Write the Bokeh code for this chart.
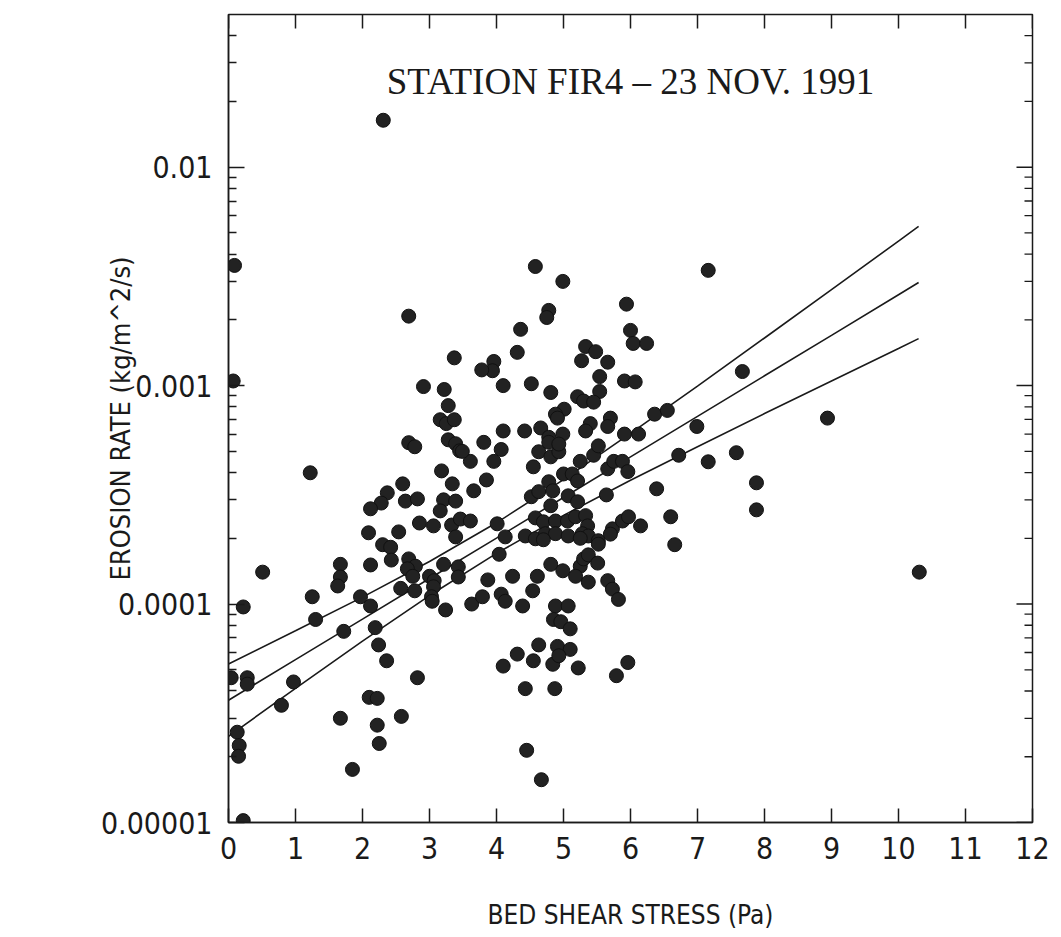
import math
from bokeh.plotting import figure
from bokeh.models import Range1d, FixedTicker, Label
from bokeh.embed import file_html
from bokeh.resources import INLINE

# ---------------- data ----------------
shear = [
    0.09, 0.07, 2.69, 3.37, 2.91, 3.22, 3.28, 3.16, 3.25, 3.37, 3.28, 3.39, 3.45, 2.69, 2.78,
    1.22, 3.18, 2.60, 3.34, 2.37, 2.28, 2.12, 2.64, 2.82, 3.21, 3.39, 3.16, 2.09, 2.54, 2.85,
    3.06, 3.33, 3.39, 2.30, 2.42,
    2.43, 2.69, 2.79, 2.67, 2.75, 3.21, 3.43, 3.43, 3.00, 3.07, 3.06, 3.03, 3.04, 2.78, 2.57,
    3.24, 0.51, 1.67, 1.67, 1.63, 2.12, 1.25, 1.97, 2.12, 0.22, 1.30, 1.72, 2.19, 2.24, 2.36,
    0.04, 0.28, 0.28, 0.97, 2.82, 2.10, 2.22, 0.79, 1.67, 2.58, 2.22, 2.25, 0.13, 0.16, 0.15,
    1.85, 0.22,
    4.58, 4.99, 5.94, 4.78, 4.75, 4.36, 6.00, 6.04, 6.24, 4.31, 5.33, 5.48, 5.27, 5.66, 3.96,
    3.94, 3.78, 4.10, 4.52, 5.54, 5.91, 6.07, 4.81, 5.54, 5.21, 5.30, 5.45, 5.01, 4.88, 4.91,
    5.70, 5.66, 5.40, 5.33, 6.36, 6.55, 4.10, 4.42, 4.66, 4.78, 4.99, 5.91, 6.12, 3.81, 4.07,
    3.96, 3.61, 3.49, 4.63, 4.81, 4.93, 4.78, 4.93, 4.55, 5.25, 5.45, 5.52, 5.66, 5.75, 5.88,
    5.96, 6.72, 3.85, 3.66, 5.00, 5.13, 5.21, 4.78, 4.52, 4.63, 4.84, 5.07, 5.21, 5.64, 6.39,
    4.81, 3.46, 3.61, 4.01, 4.13, 4.58, 4.70, 4.88, 5.06, 5.18, 5.33, 5.36, 5.73, 5.88, 5.97,
    6.15, 6.60, 4.43, 4.58, 4.73, 4.88, 5.07, 5.28, 5.37, 5.52, 6.66,
    4.70, 5.25, 5.52, 5.70, 4.04, 4.81, 4.99, 5.25, 5.30, 5.37, 5.18, 5.37, 5.51, 5.66, 5.73,
    5.82, 3.87, 4.24, 4.61, 4.54, 3.63, 3.79, 4.07, 4.13, 4.39, 4.88, 5.07, 4.85, 4.96, 5.10,
    4.63, 4.91, 5.10, 4.84, 4.93, 4.31, 4.10, 4.55, 5.22, 5.96, 5.79, 4.43, 4.87, 4.45, 4.67,
    7.16, 7.67, 6.99, 8.94, 7.58, 7.16, 7.88, 7.88, 10.31, 2.31,
]
erosion = [
    3.55e-3, 1.05e-3, 2.08e-3, 1.34e-3, 9.9e-4, 9.6e-4, 8.1e-4, 6.98e-4, 6.7e-4, 6.98e-4, 5.65e-4, 5.42e-4, 5.03e-4, 5.48e-4, 5.25e-4,
    3.99e-4, 4.07e-4, 3.55e-4, 3.55e-4, 3.23e-4, 2.90e-4, 2.73e-4, 2.96e-4, 3.03e-4, 3.0e-4, 2.96e-4, 2.67e-4, 2.12e-4, 2.14e-4, 2.35e-4,
    2.28e-4, 2.30e-4, 2.03e-4, 1.87e-4, 1.82e-4,
    1.59e-4, 1.61e-4, 1.49e-4, 1.45e-4, 1.34e-4, 1.52e-4, 1.48e-4, 1.33e-4, 1.34e-4, 1.28e-4, 1.20e-4, 1.08e-4, 1.03e-4, 1.15e-4, 1.18e-4,
    9.4e-5, 1.40e-4, 1.52e-4, 1.33e-4, 1.21e-4, 1.51e-4, 1.08e-4, 1.08e-4, 9.8e-5, 9.7e-5, 8.5e-5, 7.5e-5, 7.8e-5, 6.5e-5, 5.5e-5,
    4.6e-5, 4.6e-5, 4.3e-5, 4.4e-5, 4.6e-5, 3.74e-5, 3.7e-5, 3.44e-5, 3.0e-5, 3.06e-5, 2.79e-5, 2.30e-5, 2.59e-5, 2.25e-5, 2.01e-5,
    1.75e-5, 1.02e-5,
    3.51e-3, 3.0e-3, 2.36e-3, 2.21e-3, 2.05e-3, 1.81e-3, 1.79e-3, 1.56e-3, 1.56e-3, 1.42e-3, 1.51e-3, 1.43e-3, 1.30e-3, 1.28e-3, 1.29e-3,
    1.17e-3, 1.18e-3, 1.0e-3, 1.02e-3, 1.1e-3, 1.05e-3, 1.04e-3, 9.3e-4, 9.4e-4, 8.9e-4, 8.5e-4, 8.4e-4, 7.8e-4, 7.4e-4, 7.1e-4,
    7.1e-4, 6.5e-4, 6.7e-4, 6.2e-4, 7.4e-4, 7.7e-4, 6.2e-4, 6.2e-4, 6.4e-4, 5.8e-4, 6.0e-4, 6.0e-4, 6.0e-4, 5.5e-4, 5.1e-4,
    4.5e-4, 4.5e-4, 5.0e-4, 4.98e-4, 4.72e-4, 4.98e-4, 5.5e-4, 5.4e-4, 4.25e-4, 4.5e-4, 4.8e-4, 5.3e-4, 4.16e-4, 4.5e-4, 4.5e-4,
    4.04e-4, 4.8e-4, 3.7e-4, 3.3e-4, 3.94e-4, 3.94e-4, 3.66e-4, 3.63e-4, 3.10e-4, 3.27e-4, 3.30e-4, 3.13e-4, 2.94e-4, 3.16e-4, 3.37e-4,
    2.82e-4, 2.45e-4, 2.40e-4, 2.33e-4, 2.03e-4, 2.48e-4, 2.38e-4, 2.40e-4, 2.40e-4, 2.51e-4, 2.54e-4, 2.28e-4, 2.21e-4, 2.40e-4, 2.51e-4,
    2.28e-4, 2.51e-4, 2.05e-4, 1.99e-4, 2.10e-4, 2.10e-4, 2.05e-4, 2.10e-4, 2.05e-4, 1.95e-4, 1.87e-4,
    1.97e-4, 2.0e-4, 1.88e-4, 2.09e-4, 1.69e-4, 1.52e-4, 1.42e-4, 1.49e-4, 1.61e-4, 1.68e-4, 1.34e-4, 1.26e-4, 1.54e-4, 1.28e-4, 1.17e-4,
    1.05e-4, 1.29e-4, 1.34e-4, 1.34e-4, 1.15e-4, 1.0e-4, 1.08e-4, 1.11e-4, 1.03e-4, 9.8e-5, 9.8e-5, 9.8e-5, 8.5e-5, 8.3e-5, 7.7e-5,
    6.5e-5, 6.4e-5, 6.2e-5, 5.3e-5, 5.8e-5, 5.9e-5, 5.2e-5, 5.5e-5, 5.1e-5, 5.4e-5, 4.7e-5, 4.1e-5, 4.1e-5, 2.14e-5, 1.57e-5,
    3.37e-3, 1.16e-3, 6.5e-4, 7.1e-4, 4.93e-4, 4.48e-4, 3.59e-4, 2.70e-4, 1.40e-4, 1.64e-2,
]

# regression line and its two bounding curves
fit_x = [0, 1, 2, 3, 4, 5, 6, 7, 8, 9, 10, 10.3]
fit_mid = [3.63e-5, 5.57e-5, 8.53e-5, 1.309e-4, 2.004e-4, 3.076e-4, 4.72e-4, 7.23e-4, 1.109e-3, 1.698e-3, 2.606e-3, 2.965e-3]
fit_upper = [5.32e-5, 7.55e-5, 1.076e-4, 1.567e-4, 2.355e-4, 3.715e-4, 6.04e-4, 9.95e-4, 1.652e-3, 2.748e-3, 4.59e-3, 5.36e-3]
fit_lower = [2.48e-5, 4.11e-5, 6.76e-5, 1.094e-4, 1.706e-4, 2.547e-4, 3.69e-4, 5.25e-4, 7.45e-4, 1.050e-3, 1.479e-3, 1.641e-3]

x_ticks = list(range(0, 13))
y_ticks = [1e-5, 1e-4, 1e-3, 1e-2]
y_tick_labels = ["0.00001", "0.0001", "0.001", "0.01"]
title_text = "STATION FIR4 \u2013 23 NOV. 1991"
x_label = "BED SHEAR STRESS (Pa)"
y_label = "EROSION RATE (kg/m^2/s)"

# ---------------- styling ----------------
SANS = "'Liberation Sans Narrow', 'DejaVu Sans Condensed', 'Liberation Sans', sans-serif"
INK = "#1a1a1a"
X_MIN, X_MAX = 0, 12
Y_MIN, Y_MAX = 1e-5, 0.05

y_minor = [m * d for d in (1e-5, 1e-4, 1e-3) for m in range(2, 10)] + [2e-2, 3e-2, 4e-2]

p = figure(width=1061, height=937, x_range=Range1d(X_MIN, X_MAX), y_range=Range1d(Y_MIN, Y_MAX),
           y_axis_type="log", output_backend="svg", toolbar_location=None,
           min_border_left=228, min_border_right=29, min_border_top=14, min_border_bottom=115)
p.grid.visible = False
p.outline_line_color = INK
p.outline_line_width = 1.5
p.background_fill_color = "white"
p.border_fill_color = "white"


def style_axis(ax, tick_in, minor_in):
    ax.axis_line_color = INK
    ax.axis_line_width = 1.5
    ax.major_tick_line_color = INK
    ax.major_tick_line_width = 1.5
    ax.minor_tick_line_color = INK
    ax.minor_tick_line_width = 1.3
    ax.major_tick_in = tick_in
    ax.major_tick_out = 0
    ax.minor_tick_in = minor_in
    ax.minor_tick_out = 0
    ax.major_label_text_font = SANS
    ax.major_label_text_color = INK
    ax.axis_label_text_font = SANS
    ax.axis_label_text_color = INK
    ax.axis_label_text_font_style = "normal"


xax = p.xaxis[0]
xax.ticker = FixedTicker(ticks=x_ticks)
style_axis(xax, 14, 0)
xax.major_label_text_font_size = "30px"
xax.major_label_standoff = 14
xax.axis_label = x_label
xax.axis_label_text_font_size = "26px"
xax.axis_label_standoff = 38

yax = p.yaxis[0]
yax.ticker = FixedTicker(ticks=y_ticks, minor_ticks=y_minor)
yax.major_label_overrides = {v: s for v, s in zip(y_ticks, y_tick_labels)}
style_axis(yax, 16, 8)
yax.major_label_text_font_size = "30px"
yax.major_label_standoff = 16
yax.axis_label = y_label
yax.axis_label_text_font_size = "27px"
yax.axis_label_standoff = -38

# mirrored inward ticks on the top and right edges of the frame
p.ray(x=x_ticks, y=[Y_MAX] * len(x_ticks), length=14, length_units="screen",
      angle=-math.pi / 2, line_color=INK, line_width=1.5)
p.ray(x=[X_MAX] * len(y_ticks), y=y_ticks, length=16, length_units="screen",
      angle=math.pi, line_color=INK, line_width=1.5)
p.ray(x=[X_MAX] * len(y_minor), y=y_minor, length=8, length_units="screen",
      angle=math.pi, line_color=INK, line_width=1.3)

# ---------------- marks ----------------
for ys in (fit_upper, fit_mid, fit_lower):
    p.line(fit_x, ys, line_color=INK, line_width=1.6)

p.scatter(shear, erosion, size=14, marker="circle", fill_color="#222222",
          line_color="#111111", line_width=1)

p.add_layout(Label(x=6.0, y=0.0248, text=title_text, text_align="center",
                   text_baseline="middle", text_font="Liberation Serif",
                   text_font_size="37px", text_color=INK))

open("out.html", "w").write(file_html(p, INLINE))
